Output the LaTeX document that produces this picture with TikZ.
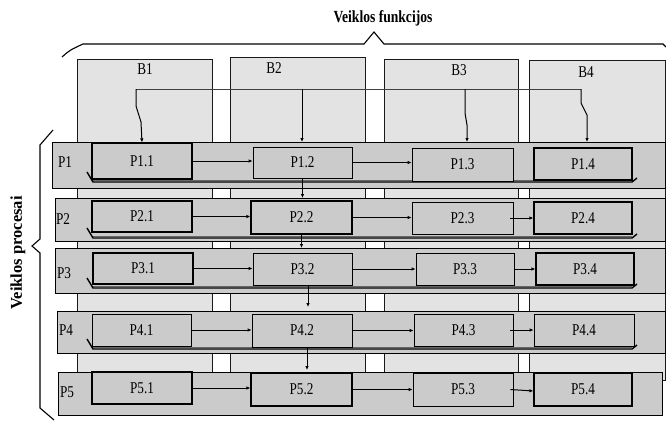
\documentclass[tikz,border=0pt]{standalone}
\usepackage{fontspec}
\setmainfont{Liberation Serif}
\newfontfamily\condf[FakeStretch=0.8]{Liberation Serif}
\usetikzlibrary{arrows.meta}
\definecolor{colfill}{HTML}{E3E3E3}
\definecolor{rowfill}{HTML}{CBCBCB}
\begin{document}
\begin{tikzpicture}[x=1pt,y=-1pt,
  colbox/.style={draw=black!90, line width=1.1pt, fill=colfill, inner sep=0pt, anchor=north west},
  rowband/.style={draw=black, line width=1.3pt, fill=rowfill, inner sep=0pt, anchor=north west},
  pbox/.style={draw=black, line width=1.2pt, fill=rowfill, inner sep=0pt, font=\condf\fontsize{16.5}{17}\selectfont},
  lbl/.style={inner sep=0pt, font=\condf\fontsize{16.5}{17}\selectfont},
  ttl/.style={inner sep=0pt, font=\condf\bfseries\fontsize{17}{18}\selectfont},
  arr/.style={draw=black, line width=1pt, -{Latex[length=4pt,width=3.5pt]}},
  conn/.style={draw=black!75, line width=0.8pt},
  uline/.style={draw=black, line width=1.4pt},
  brace/.style={draw=black, line width=1.1pt}]
\useasboundingbox[fill=white] (0,0) rectangle (666,421);
% columns
\node[colbox, minimum width=135pt, minimum height=321pt] (b1) at (77,59) {};
\node[colbox, minimum width=135pt, minimum height=323pt] (b2) at (230,57) {};
\node[colbox, minimum width=134pt, minimum height=321pt] (b3) at (384,59) {};
\node[colbox, minimum width=136pt, minimum height=320pt] (b4) at (529,60) {};
\node[lbl] (lb1) at (145,69) {B1};
\node[lbl] (lb2) at (274,68) {B2};
\node[lbl] (lb3) at (459,70) {B3};
\node[lbl] (lb4) at (586,72) {B4};
% title and braces
\node[ttl] (title) at (383,18) {Veiklos funkcijos};
\node[ttl, rotate=90, font=\bfseries\fontsize{16.5}{17}\selectfont] (vp) at (18,253) {Veiklos procesai};
\draw[brace] (62,57) .. controls (70,50) .. (83,44) -- (364,44) -- (374,32) -- (384,44) -- (663,44) -- (666,47);
\draw[brace] (53,130) -- (40,145) -- (40,239) -- (32,246) -- (40,253) -- (40,408) -- (54,420);
% rows
\node[rowband, minimum width=613pt, minimum height=46pt] (r1) at (52,142) {};
\node[rowband, minimum width=610pt, minimum height=43pt] (r2) at (55,198) {};
\node[rowband, minimum width=610pt, minimum height=45pt] (r3) at (55,248) {};
\node[rowband, minimum width=608pt, minimum height=42pt] (r4) at (57,311) {};
\node[rowband, minimum width=604pt, minimum height=43pt] (r5) at (58,372) {};
\node[lbl] (lp1) at (65,162) {P1};
\node[lbl] (lp2) at (63,219) {P2};
\node[lbl] (lp3) at (64,273) {P3};
\node[lbl] (lp4) at (66,330) {P4};
\node[lbl] (lp5) at (67,392) {P5};
% underline shadows
\foreach \yu in {182,238,288,349}{
  \draw[draw=black!60, line width=0.6pt] (92,\yu-2.2) -- (632,\yu-2.2);
  \draw[uline] (87,\yu-10) -- (93,\yu) -- (632,\yu) -- (637,\yu-4);
}
% boxes
\node[pbox, minimum width=100pt, minimum height=36pt] (p11) at (142,161) {P1.1};
\node[pbox, minimum width=99pt, minimum height=31pt, line width=0.8pt] (p12) at (302.5,162.5) {P1.2};
\node[pbox, minimum width=101pt, minimum height=33pt, line width=0.8pt] (p13) at (462.5,164.5) {P1.3};
\node[pbox, minimum width=98pt, minimum height=32pt] (p14) at (583,164) {P1.4};
\node[pbox, minimum width=100pt, minimum height=31pt] (p21) at (142,216.5) {P2.1};
\node[pbox, minimum width=101pt, minimum height=33pt] (p22) at (301.5,217.5) {P2.2};
\node[pbox, minimum width=101pt, minimum height=32pt, line width=0.8pt] (p23) at (462.5,218) {P2.3};
\node[pbox, minimum width=98pt, minimum height=32pt] (p24) at (583,218) {P2.4};
\node[pbox, minimum width=100pt, minimum height=31pt] (p31) at (143,268.5) {P3.1};
\node[pbox, minimum width=99pt, minimum height=32pt, line width=0.8pt] (p32) at (302.5,269) {P3.2};
\node[pbox, minimum width=98pt, minimum height=32pt, line width=0.8pt] (p33) at (465,269) {P3.3};
\node[pbox, minimum width=98pt, minimum height=32pt] (p34) at (585,269) {P3.4};
\node[pbox, minimum width=99pt, minimum height=32pt, line width=0.8pt] (p41) at (141.5,330) {P4.1};
\node[pbox, minimum width=100pt, minimum height=33pt, line width=0.8pt] (p42) at (302,330.5) {P4.2};
\node[pbox, minimum width=99pt, minimum height=32pt, line width=0.8pt] (p43) at (463.5,330) {P4.3};
\node[pbox, minimum width=100pt, minimum height=32pt, line width=0.8pt] (p44) at (584,330) {P4.4};
\node[pbox, minimum width=100pt, minimum height=32pt] (p51) at (142,388) {P5.1};
\node[pbox, minimum width=101pt, minimum height=33pt] (p52) at (301.5,389.5) {P5.2};
\node[pbox, minimum width=100pt, minimum height=33pt, line width=0.8pt] (p53) at (463,389.5) {P5.3};
\node[pbox, minimum width=98pt, minimum height=33pt] (p54) at (583,389.5) {P5.4};
% horizontal arrows
\draw[arr] (p11.east) -- (p11.east -| p12.west);
\draw[arr] (p12.east) -- (p12.east -| p13.west);
\draw[arr] (p21.east) -- (p21.east -| p22.west);
\draw[arr] (p22.east) -- (p22.east -| p23.west);
\draw[arr] ([xshift=-3pt]p23.east) -- (p23.east -| p24.west);
\draw[arr] (p31.east) -- (p31.east -| p32.west);
\draw[arr] (p32.east) -- (p32.east -| p33.west);
\draw[arr] (p33.east) -- (p33.east -| p34.west);
\draw[arr] (p41.east) -- (p41.east -| p42.west);
\draw[arr] (p42.east) -- (p42.east -| p43.west);
\draw[arr] ([xshift=-3pt]p43.east) -- (p43.east -| p44.west);
\draw[arr] (p51.east) -- (p51.east -| p52.west);
\draw[arr] (p52.east) -- (p52.east -| p53.west);
\draw[arr] ([xshift=-3pt]p53.east) -- ([yshift=-1.5pt]p53.east -| p54.west);
% vertical arrows
\draw[arr] (p12.south) -- (p12.south |- r2.north);
\draw[arr] (p22.south) -- (p22.south |- r3.north);
\draw[arr] ([xshift=5.5pt]p32.south) -- ([xshift=5.5pt,yshift=4pt]p32.south |- r4.north);
\draw[arr] ([xshift=5pt]p42.south) -- ([xshift=5pt,yshift=2pt]p42.south |- r5.north);
% top connectors
\coordinate (h1) at (136,89);
\coordinate (h2) at (302,89);
\coordinate (h3) at (465,89);
\coordinate (h4) at (581,89);
\draw[conn] (h1) -- (h4);
\draw[arr] (h1) -- ++(0,17) -- ++(5,16) -- (p11.north -| 142,0);
\draw[arr] (h2) -- (h2 |- r1.north);
\draw[arr] (h3) -- ++(0,24) -- ++(2,12) -- ([xshift=2pt]h3 |- r1.north);
\draw[arr] (h4) -- ++(0,14) -- ++(6,12) -- ([xshift=6pt]h4 |- r1.north);
\end{tikzpicture}
\end{document}
